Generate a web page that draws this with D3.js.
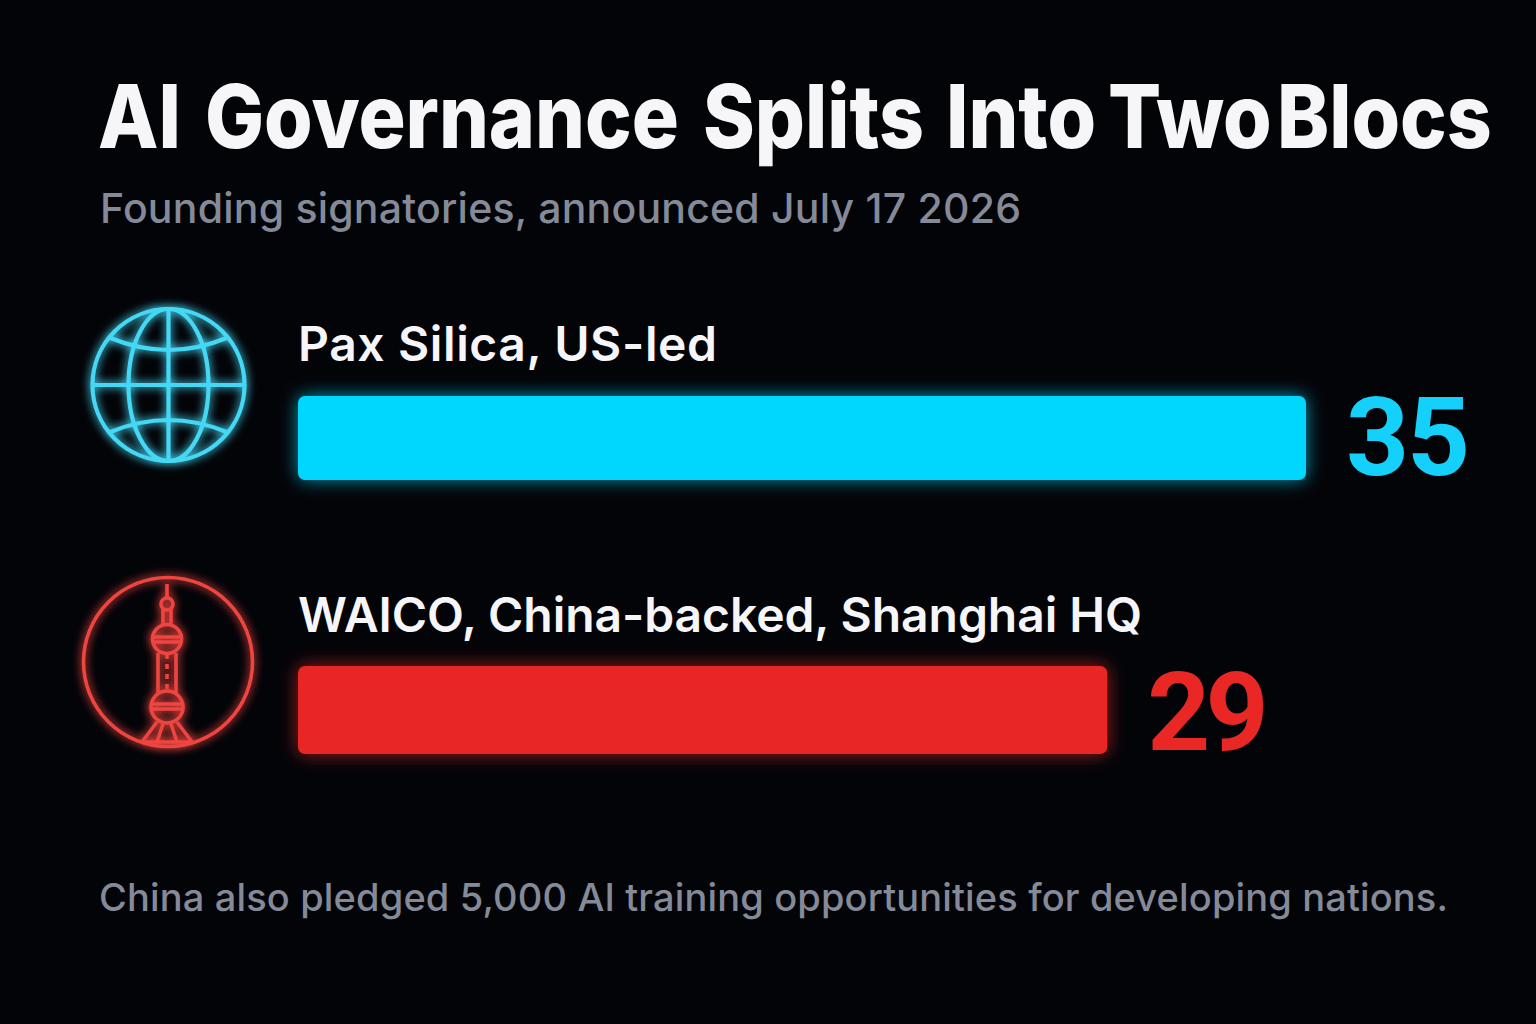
<!DOCTYPE html>
<html><head><meta charset="utf-8">
<script src="https://cdn.jsdelivr.net/npm/d3@7"></script>
<style>html,body{margin:0;padding:0;background:#030408}svg{display:block}text{font-family:Inter,"Noto Sans",sans-serif}</style>
</head><body><div id="c"></div>
<script>
const categories = ["Pax Silica, US-led", "WAICO, China-backed, Shanghai HQ"];
const barLengths = [35, 28.1];
const valueLabels = ["35", "29"];
const colors = ["#00d7ff", "#e92825"];
const valueColors = ["#14d0fb", "#e92825"];
const lineColors = ["#45d8f5", "#ee4440"];
const titleWords = ["AI ", "Governance ", "Splits ", "Into ", "Two ", "Blocs"];
const titleStarts = [98, 205, 703, 946, 1108, 1277];
const subtitleText = "Founding signatories, announced July 17 2026";
const footnoteText = "China also pledged 5,000 AI training opportunities for developing nations.";

const svg = d3.select("#c").append("svg").attr("width",1536).attr("height",1024);
const defs = svg.append("defs");
const f = (id,s,k)=>{const fl=defs.append("filter").attr("id",id).attr("x","-30%").attr("y","-40%").attr("width","160%").attr("height","180%");
  fl.append("feGaussianBlur").attr("in","SourceGraphic").attr("stdDeviation",s).attr("result","b1");
  fl.append("feComponentTransfer").attr("in","b1").attr("result","b2").append("feFuncA").attr("type","linear").attr("slope",k);
  const m=fl.append("feMerge");m.append("feMergeNode").attr("in","b2");m.append("feMergeNode").attr("in","SourceGraphic");};
f("glow",9,0.7);f("glowIcon",5,1.3);

svg.append("rect").attr("width",1536).attr("height",1024).attr("fill","#030408");

const x = d3.scaleLinear().domain([0,35]).range([298,1306]);
const rowTop = [396,666], rowH=[84,88];

const titleScale = 0.893;
const title = svg.append("text").attr("transform",`translate(98,148) scale(${titleScale},1)`).attr("font-size",88).attr("font-weight",800).attr("fill","#f6f6f8");
title.selectAll("tspan").data(titleWords).join("tspan").attr("x",(d,i)=>(titleStarts[i]-98)/titleScale).text(d=>d);

svg.append("text").attr("x",100).attr("y",223).attr("font-size",41).attr("font-weight",500).attr("fill","#858a99").attr("textLength",921).attr("lengthAdjust","spacing").text(subtitleText);
svg.append("text").attr("x",99).attr("y",911).attr("font-size",38).attr("font-weight",500).attr("fill","#858a99").attr("textLength",1349).attr("lengthAdjust","spacing").text(footnoteText);

const g = svg.selectAll("g.row").data(categories).join("g").attr("class","row");
g.append("text").attr("x",298).attr("y",(d,i)=>[361,632][i]).attr("font-size",48).attr("font-weight",600).attr("fill","#f6f6f8")
 .attr("textLength",(d,i)=>[419,844][i]).attr("lengthAdjust","spacing").text(d=>d);
g.append("rect").attr("x",x(0)).attr("y",(d,i)=>rowTop[i]).attr("width",(d,i)=>x(barLengths[i])-x(0)).attr("height",(d,i)=>rowH[i]).attr("rx",7)
 .attr("fill",(d,i)=>colors[i]).attr("filter","url(#glow)");
g.append("text").attr("x",(d,i)=>x(barLengths[i])+[40,40][i]).attr("y",(d,i)=>[475,750][i]).attr("font-size",110).attr("font-weight",700).attr("fill",(d,i)=>valueColors[i])
 .attr("letter-spacing",(d,i)=>[-2,-5][i])
 .style("font-family","Roboto,Inter,sans-serif").text((d,i)=>valueLabels[i]);

// Globe icon
const gl = svg.append("g").attr("transform","translate(168.5,385)").attr("fill","none").attr("stroke",lineColors[0]).attr("stroke-width",4.2).attr("filter","url(#glowIcon)");
gl.append("circle").attr("r",76);
gl.append("ellipse").attr("rx",40).attr("ry",76);
gl.append("path").attr("d","M0,-76V76M-76,0H76M-58,-47Q0,-23 58,-47M-58,47Q0,23 58,47");

// Tower icon
const tw = svg.append("g").attr("transform","translate(167,662)").attr("fill","none").attr("stroke",lineColors[1]).attr("stroke-width",3.6).attr("filter","url(#glowIcon)");
tw.append("circle").attr("cx",1).attr("r",84.5);
tw.append("path").attr("d","M0,-78V-64");
tw.append("circle").attr("cy",-58).attr("r",6);
tw.append("path").attr("d","M-4,-53V-37M4,-53V-37");
tw.append("circle").attr("cy",-23).attr("r",14.5);
tw.append("path").attr("d","M-14,-25H14M-14,-20H14");
tw.append("path").attr("d","M-9,-9V31M9,-9V31");
tw.append("path").attr("d","M0,-8V30").attr("stroke-dasharray","5 5");
tw.append("circle").attr("cy",45).attr("r",16);
tw.append("path").attr("d","M-16,42H16M-16,47H16");
tw.append("path").attr("d","M-10,60L-25,80M10,60L25,80M-4,62L-10,80M4,62L10,80M-25,80H25");
</script></body></html>
